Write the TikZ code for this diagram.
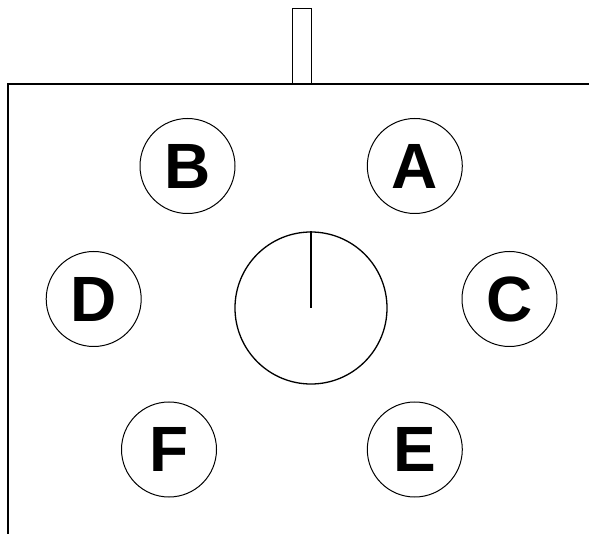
\documentclass[tikz,border=0pt]{standalone}
\usepackage{fontspec}
\setmainfont{Liberation Sans}
\begin{document}
\begin{tikzpicture}[x=1pt,y=-1pt,
  port/.style={draw,circle,minimum size=95pt,inner sep=0pt,line width=1pt,
    font=\fontsize{64}{64}\selectfont\bfseries},
  dial/.style={draw,circle,minimum size=152pt,inner sep=0pt,line width=1.3pt},
  frame/.style={line width=2pt},
  stub/.style={line width=1.5pt}]
\useasboundingbox (0,0) rectangle (589,534);
\draw[frame] (589,84) -- (8,84) -- (8,534);
\draw[stub] (292.3,84) rectangle (311.3,8.3);
\node[dial] (dial) at (311,308) {};
\draw[line width=1.3pt] (dial.center) -- (dial.north);
\node[port] (A) at (414.8,166) {A};
\node[port] (B) at (187.5,166) {B};
\node[port] (C) at (509.5,299) {C};
\node[port] (D) at (93.7,299) {D};
\node[port] (E) at (414.8,449.5) {E};
\node[port] (F) at (169,449.5) {F};
\end{tikzpicture}
\end{document}
